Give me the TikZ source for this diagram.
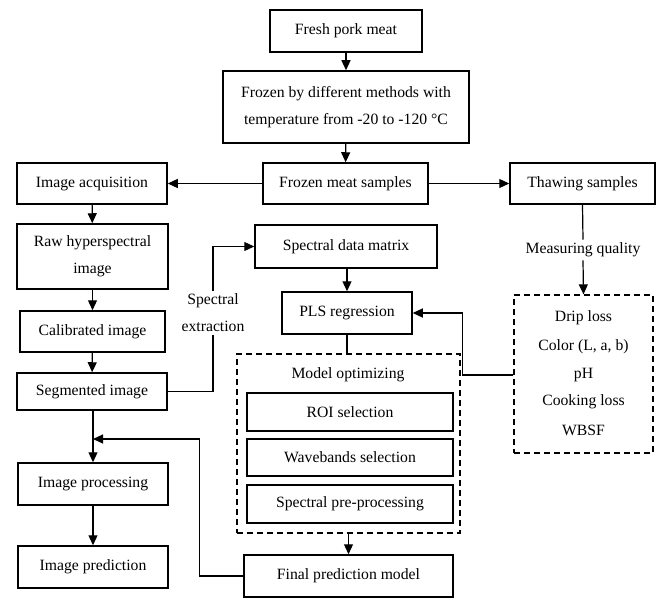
\documentclass[tikz,border=0pt]{standalone}
\usepackage{fontspec}
\setmainfont{Liberation Serif}
\usetikzlibrary{arrows.meta}
\begin{document}
\begin{tikzpicture}[x=1pt,y=-1pt,
  box/.style={draw, line width=1.5pt, rectangle, inner sep=0pt, align=center},
  dbox/.style={draw, line width=1.3pt, dash pattern=on 6pt off 4pt, rectangle, inner sep=0pt},
  conn/.style={line width=1.2pt},
  arr/.style={conn, -{Triangle[length=10pt,width=9pt]}},
  lbl/.style={align=center, inner sep=2pt},
  font=\fontsize{15.7}{27}\selectfont]
\useasboundingbox (0,0) rectangle (662,599);
\node[box, minimum width=152pt, minimum height=42pt] (fresh) at (346,31) {Fresh pork meat};
\node[box, minimum width=246pt, minimum height=72pt] (frozen) at (346,107) {Frozen by different methods with\\temperature from -20 to -120 °C};
\node[box, minimum width=165pt, minimum height=41pt] (samples) at (345.5,183.5) {Frozen meat samples};
\node[box, minimum width=150pt, minimum height=41pt] (acq) at (92,183.5) {Image acquisition};
\node[box, minimum width=145pt, minimum height=41pt] (thaw) at (582.5,183.5) {Thawing samples};
\node[box, minimum width=151pt, minimum height=65pt] (raw) at (92.5,256.5) {Raw hyperspectral\\image};
\node[box, minimum width=145pt, minimum height=41pt] (cal) at (92.5,331.5) {Calibrated image};
\node[box, minimum width=150pt, minimum height=37pt] (seg) at (92,391.5) {Segmented image};
\node[box, minimum width=182pt, minimum height=43pt] (sdm) at (346,246.5) {Spectral data matrix};
\node[box, minimum width=130pt, minimum height=42pt] (pls) at (347,313) {PLS regression};
\node[dbox, minimum width=223pt, minimum height=179pt] (mopt) at (348.5,443.5) {};
\node[lbl] (moptl) at (348,375) {Model optimizing};
\node[box, minimum width=206pt, minimum height=38pt] (roi) at (350,412) {ROI selection};
\node[box, minimum width=206pt, minimum height=37pt] (wave) at (350,457.5) {Wavebands selection};
\node[box, minimum width=206pt, minimum height=38pt] (pre) at (350,504) {Spectral pre-processing};
\node[box, minimum width=209pt, minimum height=42pt] (final) at (348.5,576) {Final prediction model};
\node[box, minimum width=150pt, minimum height=42pt] (proc) at (93,484) {Image processing};
\node[box, minimum width=150pt, minimum height=42pt] (pred) at (93,567) {Image prediction};
\node[lbl, inner sep=3pt] (sx) at (213,313) {Spectral\\extraction};
\node[lbl, inner sep=3pt] (mq) at (583,250) {Measuring quality};
\node[dbox, minimum width=139pt, minimum height=158pt] (qual) at (583.5,374) {};
\node[lbl] (q1) at (583.5,318) {Drip loss};
\node[lbl] (q2) at (583.5,347) {Color (L, a, b)};
\node[lbl] (q3) at (583.5,375) {pH};
\node[lbl] (q4) at (583.5,402) {Cooking loss};
\node[lbl] (q5) at (583.5,430) {WBSF};
\coordinate (join) at (93,439);
% connectors
\draw[arr] (fresh) -- (frozen);
\draw[arr] (frozen) -- (samples);
\draw[arr] (samples) -- (acq);
\draw[arr] (samples) -- (thaw);
\draw[arr] (acq) -- (raw);
\draw[arr] (raw) -- (cal);
\draw[arr] (cal) -- (seg);
\draw[conn] (seg.east) -| (sx.south);
\draw[arr] (sx.north) |- (sdm.west);
\draw[arr] (sdm.south -| pls.north) -- (pls.north);
\draw[conn] (pls.south) -- (pls.south |- mopt.north);
\draw[arr] (final.north |- mopt.south) -- (final.north);
\draw[arr] (seg.south -| proc.north) -- (proc.north);
\draw[arr] (final.west) -- ++(-44,0) |- (join);
\draw[arr] (proc) -- (pred);
\draw[conn] (thaw.south) -- (mq.north);
\draw[arr] (mq.south) -- (qual.north);
\draw[arr] (qual.west |- q3) -- ++(-51,0) |- (pls.east);
\end{tikzpicture}
\end{document}
